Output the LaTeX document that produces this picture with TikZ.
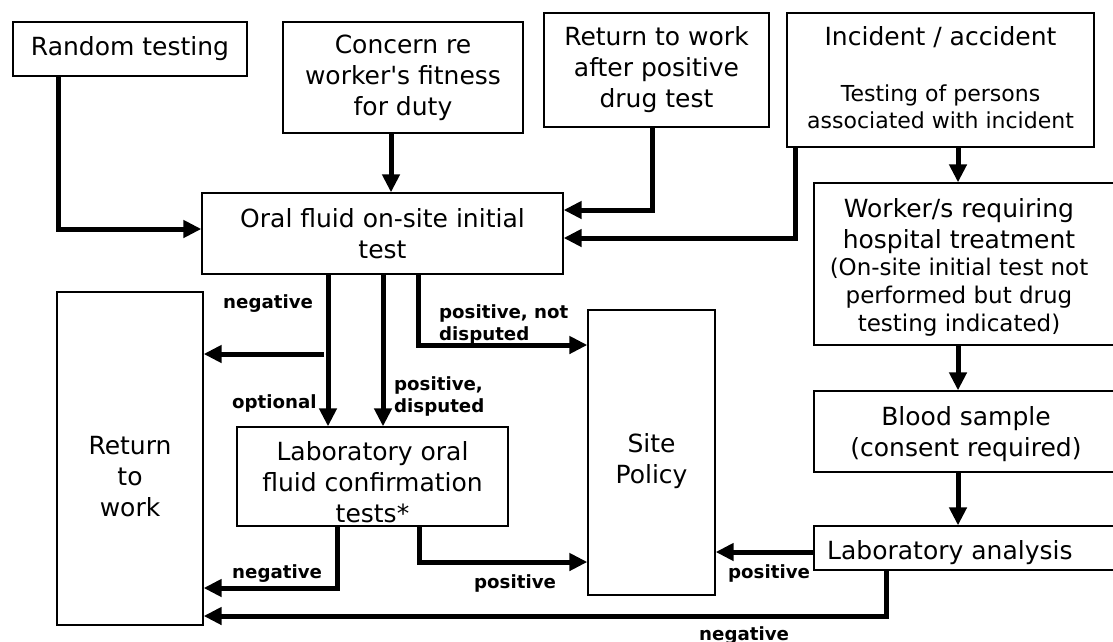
\documentclass[tikz,border=0pt]{standalone}
\usepackage{fontspec}
\setmainfont{DejaVu Sans}[Ligatures=TeXOff]
\usetikzlibrary{arrows.meta}
\begin{document}
\begin{tikzpicture}[x=1pt,y=-1pt,
  box/.style={draw, line width=1.3pt, inner sep=0pt, align=center, font=\fontsize{25}{31}\selectfont},
  txt/.style={inner sep=0pt, align=center, anchor=base, font=\fontsize{25}{31}\selectfont},
  small/.style={inner sep=0pt, align=center, anchor=base, font=\fontsize{23}{28}\selectfont},
  smaller/.style={inner sep=0pt, align=center, anchor=base, font=\fontsize{22}{27}\selectfont},
  lbl/.style={inner sep=0pt, align=left, anchor=base west, font=\fontsize{18.2}{22}\selectfont\bfseries},
  arr/.style={line width=5pt, -{Triangle[length=18pt,width=17pt]}}]
\useasboundingbox (0,0) rectangle (1113,641);
\fill[white] (0,0) rectangle (1113,641);
\clip (0,0) rectangle (1113,641);

% boxes
\node[box, minimum width=234, minimum height=54] (rand) at (130,49) {Random testing};
\node[box, minimum width=240, minimum height=111] (concern) at (403,77.5) {Concern re\\worker's fitness\\for duty};
\node[box, minimum width=225, minimum height=114] (rtwpos) at (656.5,70) {Return to work\\after positive\\drug test};
\node[box, minimum width=307, minimum height=134] (incident) at (940.5,80) {};
\node[box, minimum width=361, minimum height=81] (oral) at (382.5,233.5) {Oral fluid on-site initial\\test};
\node[box, minimum width=311, minimum height=162] (worker) at (969.5,264) {};
\node[box, minimum width=311, minimum height=81] (blood) at (969.5,431.5) {};
\node[box, minimum width=311, minimum height=44] (labana) at (969.5,548) {};
\node[box, minimum width=127, minimum height=285] (site) at (651.5,452.5) {};
\node[box, minimum width=146, minimum height=333] (rtw) at (130,458.5) {};
\node[box, minimum width=271, minimum height=99] (laboral) at (372.5,476.5) {};

% texts (base anchor = baseline of the last line)
\node[txt] (inctitle) at (940.5,45) {Incident / accident};
\node[smaller] (incsub) at (940.5,128) {Testing of persons\\associated with incident};
\node[txt] (workertext) at (959,248) {Worker/s requiring\\hospital treatment};
\node[small] (workernote) at (959,331) {(On-site initial test not\\performed but drug\\testing indicated)};
\node[txt] (bloodtext) at (966,456) {Blood sample\\(consent required)};
\node[txt, anchor=base west] (labanatext) at (827,559) {Laboratory analysis};
\node[txt] (sitetext) at (651.5,483) {Site\\Policy};
\node[txt] (rtwtext) at (130,516) {Return\\to\\work};
\begin{scope}
  \clip (237,427) rectangle (508,525);
  \node[txt] (laboraltext) at (372.5,522) {Laboratory oral\\fluid confirmation\\tests*};
\end{scope}

% connectors
\draw[arr] (rand.south -| 58,0) |- (oral.west |- 0,229);
\draw[arr] (concern.south -| 391,0) -- (oral.north -| 391,0);
\draw[arr] (rtwpos.south -| 652,0) |- (oral.east |- 0,210);
\draw[arr] (incident.south -| 795,0) |- (oral.east |- 0,238);
\draw[arr] (incident.south -| 958,0) -- (worker.north -| 958,0);
\draw[arr] (worker.south -| 958,0) -- (blood.north -| 958,0);
\draw[arr] (blood.south -| 958,0) -- (labana.north -| 958,0);
\draw[arr] (labana.west |- 0,552) -- (site.east |- 0,552);
\draw[arr] (labana.south -| 886,0) |- (rtw.east |- 0,616);

\draw[arr] (oral.south -| 328,0) -- (laboral.north -| 328,0);
\coordinate (negsplit) at (324,354);
\draw[arr] (negsplit) -- (rtw.east |- negsplit);
\draw[arr] (oral.south -| 383,0) -- (laboral.north -| 383,0);
\draw[arr] (oral.south -| 418,0) |- (site.west |- 0,345);
\draw[arr] (laboral.south -| 337,0) |- (rtw.east |- 0,588);
\draw[arr] (laboral.south -| 419,0) |- (site.west |- 0,562);

% labels (base anchor = baseline of the last line)
\node[lbl] (lneg1) at (223,308) {negative};
\node[lbl] (lposnd) at (439,340) {positive, not\\disputed};
\node[lbl] (lopt) at (232,408) {optional};
\node[lbl] (lposd) at (394,412) {positive,\\disputed};
\node[lbl] (lneg2) at (232,578) {negative};
\node[lbl] (lpos1) at (474,588) {positive};
\node[lbl] (lpos2) at (728,578) {positive};
\node[lbl] (lneg3) at (699,640) {negative};
\end{tikzpicture}
\end{document}
